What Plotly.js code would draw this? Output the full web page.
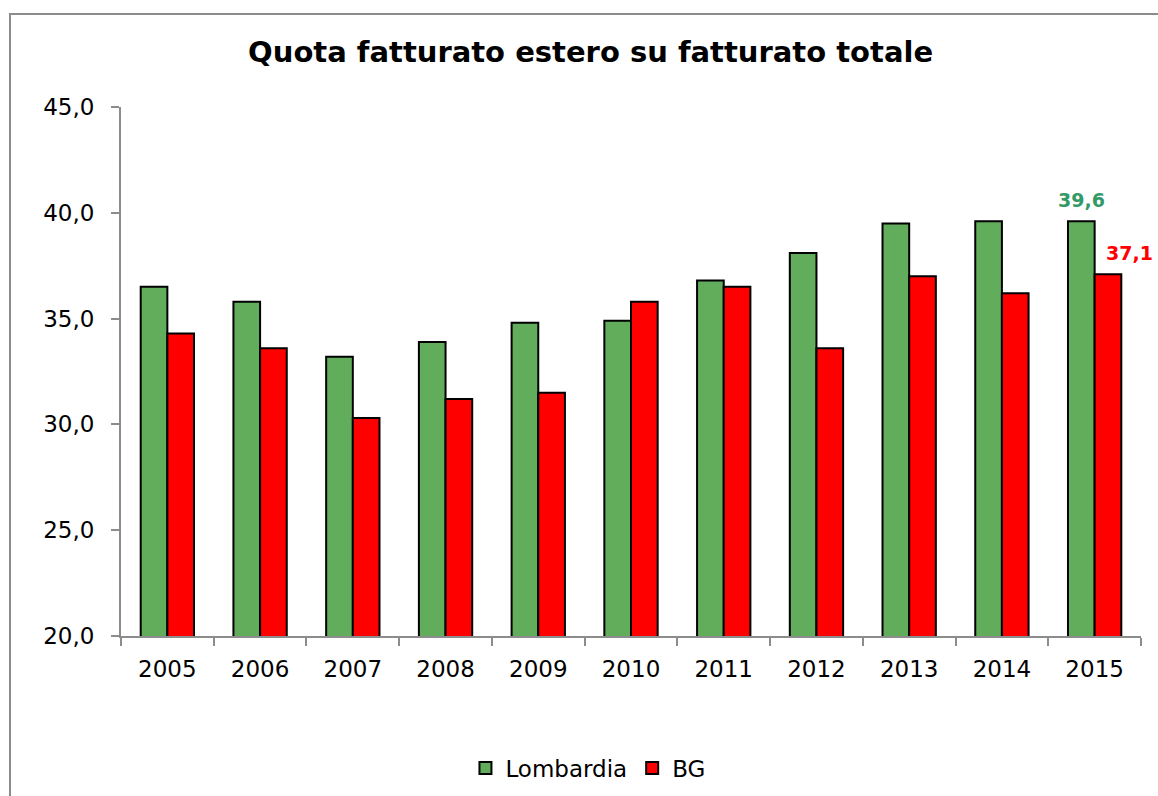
<!DOCTYPE html>
<html>
<head>
<meta charset="utf-8">
<script src="https://cdn.plot.ly/plotly-3.0.1.min.js"></script>
<style>
  html, body { margin: 0; padding: 0; overflow: hidden; background: #fff; }
  #chart { width: 1158px; height: 796px; }
  #frame { position: absolute; left: 9px; top: 13px; width: 1170px; height: 800px;
           border: 2px solid #8c8c8c; pointer-events: none; box-sizing: border-box; }
</style>
</head>
<body>
<div id="chart"></div>
<div id="frame"></div>
<script>
const categories = ["2005","2006","2007","2008","2009","2010","2011","2012","2013","2014","2015"];
const lombardia = [36.5, 35.8, 33.2, 33.9, 34.8, 34.9, 36.8, 38.1, 39.5, 39.6, 39.6];
const bg        = [34.3, 33.6, 30.3, 31.2, 31.5, 35.8, 36.5, 33.6, 37.0, 36.2, 37.1];
const seriesNames = ["Lombardia", "BG"];
const chartTitle = "Quota fatturato estero su fatturato totale";

const FONT = "DejaVu Sans, Verdana, sans-serif";
const fmt = v => v.toFixed(1).replace(".", ",");
const last = categories.length - 1;

const traces = [
  { type: "bar", name: seriesNames[0], x: categories, y: lombardia,
    marker: { color: "#62ad5b", line: { color: "#000", width: 2 } }, hoverinfo: "x+y" },
  { type: "bar", name: seriesNames[1], x: categories, y: bg,
    marker: { color: "#ff0000", line: { color: "#000", width: 2 } }, hoverinfo: "x+y" }
];

const layout = {
  width: 1158, height: 796,
  margin: { l: 121, r: 17, t: 107, b: 160, autoexpand: false },
  paper_bgcolor: "#fff", plot_bgcolor: "#fff",
  separators: ",.",
  font: { family: FONT, size: 23, color: "#000" },
  title: { text: "<b>" + chartTitle + "</b>", font: { family: FONT, size: 29, color: "#000" },
           x: 0.51, xref: "container", xanchor: "center", y: 1 - 52/796, yanchor: "middle" },
  barmode: "group", bargap: 0.425, bargroupgap: 0,
  xaxis: { type: "category", range: [-0.5, categories.length - 0.5], autorange: false,
           showgrid: false, zeroline: false, automargin: false,
           showline: true, linecolor: "#8c8c8c", linewidth: 2,
           ticks: "outside", tickson: "boundaries", ticklen: 8, tickcolor: "#8c8c8c", tickwidth: 2,
           tickangle: 0, ticklabelstandoff: 11, tickfont: { family: FONT, size: 23, color: "#000" } },
  yaxis: { range: [20, 45], autorange: false, dtick: 5, tick0: 20, tickformat: ".1f",
           showgrid: false, zeroline: false, automargin: false,
           showline: true, linecolor: "#8c8c8c", linewidth: 2,
           ticks: "outside", ticklen: 8, tickcolor: "#8c8c8c", tickwidth: 2,
           ticklabelstandoff: 12, tickfont: { family: FONT, size: 23, color: "#000" } },
  showlegend: true,
  legend: { orientation: "h", x: 0.4578, xanchor: "center", y: -0.2495, yanchor: "middle",
            font: { family: FONT, size: 23, color: "#000" }, itemwidth: 30, traceorder: "normal" },
  annotations: [
    { x: last, y: lombardia[last], xref: "x", yref: "y", text: "<b>" + fmt(lombardia[last]) + "</b>",
      showarrow: false, xshift: -13.5, yshift: 21, yanchor: "middle", xanchor: "center",
      font: { family: FONT, size: 19, color: "#339966" } },
    { x: last, y: bg[last], xref: "x", yref: "y", text: "<b>" + fmt(bg[last]) + "</b>",
      showarrow: false, xshift: 35, yshift: 21, yanchor: "middle", xanchor: "center",
      font: { family: FONT, size: 19, color: "#ff0000" } }
  ]
};

Plotly.newPlot("chart", traces, layout, { displayModeBar: false, staticPlot: true });
</script>
</body>
</html>
